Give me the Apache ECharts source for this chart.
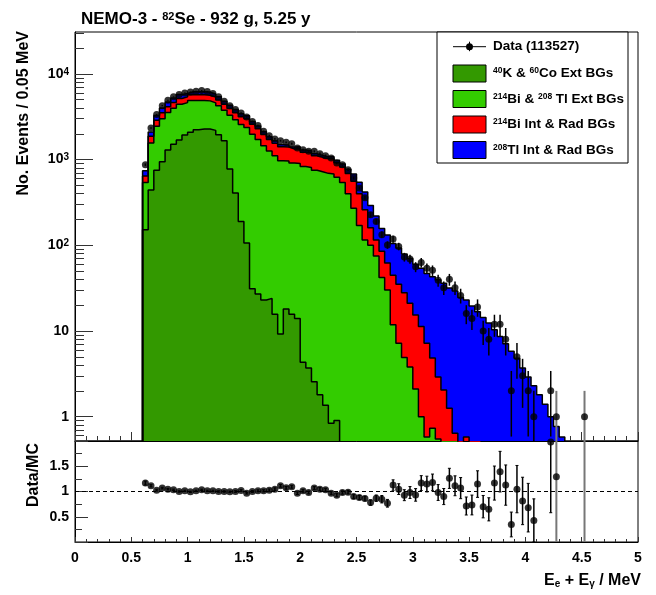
<!DOCTYPE html>
<html><head><meta charset="utf-8">
<script src="https://cdn.jsdelivr.net/npm/echarts@6/dist/echarts.min.js"></script>
<style>html,body{margin:0;padding:0;background:#fff}#c{width:656px;height:595px}</style>
</head><body><div id="c"></div>
<script>
// ---------------- data ----------------
const BIN_START = 0.6, BIN_WIDTH = 0.05;   // MeV
// Data counts per 0.05 MeV bin, 0.60 ... 4.50
const dataCounts = [872,2340,3350,4260,4920,5390,5730,6000,6160,6270,6390,6210,5890,5390,4790,4260,3830,3500,3140,2790,2490,2135,1900,1740,1660,1590,1530,1366,1305,1247,1247,1172,1110,1044,912,872,762,610,466,359,227,190,133,101,118,97,73,69,56,63,54,51,39,32,40,32,26,16,14,19,10,8,12,12,8,2,5,3,2,1,0,0,2,1,0,0,0,0,1];
// MC components, starting at 0.60
const k40co60Ext = [152,440,750,945,1290,1510,1690,1940,2080,2230,2270,2270,2190,1950,1660,777,407,190,106,31,27,23,24,15.7,9.2,18,15.7,14,4.3,3.7,2.56,1.8,1.36,0.84,0.9];
const biTlExt = [388,1120,1690,2055,2240,2450,2720,2680,2820,2670,2630,2570,2400,2310,2100,2523,2503,2370,2264,1949,1693,1427,1236,1094,961,942,894,886,826,806,747,718,689,679,619,540,400,270,170,115,100,75,42,30,11.8,7.2,4.9,3.8,2.1,1.0,0.58,0.73,0.55,0.3,0.1,0.05];
const bi214Int = [105,310,430,510,610,680,750,770,800,800,800,800,760,700,650,650,610,600,620,610,570,510,460,440,440,440,420,440,390,390,360,340,330,340,300,280,290,290,230,145,60,40,43,32,33,27.8,23.1,17.2,13.3,10.3,6.6,4.1,2.35,1.75,1.15,0.59,0.35,0.58,0.2,0.15];
const tl208Int = [95,230,390,480,560,580,570,530,500,490,490,490,460,430,380,340,310,270,260,200,170,150,130,110,80,80,70,70,70,70,60,60,55,60,64,70,82,118,142,157,131,104,72,70,60,58,51,49,44.6,42.7,39.8,38.2,36.7,34,30.4,28.6,24.3,22.4,19.4,16.6,14.4,12.4,10.3,8.6,7.1,5.8,4.8,3.7,2.9,2.3,1.8,1.4,1.0,0.77,0.58];
// Data / MC ratio, 0.60 ... 4.50
const ratioValues = [1.167,1.113,1.027,1.067,1.047,1.033,1.0,1.013,0.993,1.013,1.033,1.013,1.013,1.0,1.0,0.993,1.0,1.02,0.967,1.0,1.013,1.013,1.027,1.047,1.113,1.073,1.093,0.967,1.013,0.98,1.067,1.047,1.033,0.967,0.927,0.98,0.987,0.90,0.88,0.86,0.78,0.867,0.847,0.767,1.127,1.047,0.927,0.98,0.933,1.167,1.147,1.18,0.98,0.90,1.26,1.113,1.067,0.713,0.733,1.147,0.70,0.647,1.167,1.393,1.127,0.347,1.047,0.813,0.68,0.427,null,null,1.98,1.293,null,null,null,null,null];
const yMajorTicks = [1,10,100,1000,10000];
const yMinorTicks = [0.6,0.7,0.8,0.9,2,3,4,5,6,7,8,9,20,30,40,50,60,70,80,90,200,300,400,500,600,700,800,900,2000,3000,4000,5000,6000,7000,8000,9000,20000,30000];
const legendLabels = ['Data (113527)','{s|40}{t|K & }{s|60}{t|Co Ext BGs}','{s|214}{t|Bi & }{s|208}{t| Tl Ext BGs}','{s|214}{t|Bi Int & Rad BGs}','{s|208}{t|Tl Int & Rad BGs}'];

// ---------------- build ----------------
const FONT = "'Liberation Sans', Arial, Helvetica, sans-serif";
const YMIN = 0.52, YMAX = 30800, FLOOR = 0.3, RMIN = 0, RMAX = 2;
const COLORS = ['#339900', '#33cc00', '#ff0000', '#0000ff'];
function edge(i){ return Math.round((BIN_START + i*BIN_WIDTH)*1000)/1000; }
function center(i){ return Math.round((BIN_START + (i+0.5)*BIN_WIDTH)*10000)/10000; }
function at(a,i){ return (i < a.length && a[i] != null) ? a[i] : 0; }
const nMC = Math.max(k40co60Ext.length, biTlExt.length, bi214Int.length, tl208Int.length);
const cum = [[],[],[],[]];
for (let i=0;i<nMC;i++){
  const a = at(k40co60Ext,i), b = a + at(biTlExt,i), c = b + at(bi214Int,i), d = c + at(tl208Int,i);
  cum[0].push(a); cum[1].push(b); cum[2].push(c); cum[3].push(d);
}
function stepData(vals){
  let last = vals.length-1; while (last>=0 && !(vals[last]>0)) last--;
  const pts = [[edge(0), FLOOR]];
  for (let i=0;i<=last;i++) pts.push([edge(i), Math.max(vals[i], FLOOR)]);
  pts.push([edge(last+1), FLOOR]);
  return pts;
}
const names = ['40K & 60Co Ext BGs','214Bi & 208Tl Ext BGs','214Bi Int & Rad BGs','208Tl Int & Rad BGs'];
const series = [];
for (let k=3;k>=0;k--){
  series.push({type:'line', name:names[k], xAxisIndex:0, yAxisIndex:0, step:'end', symbol:'none', showSymbol:false,
    data: stepData(cum[k]), clip:true, silent:true, z:2,
    lineStyle:{color:'#000', width:1.5}, itemStyle:{color:COLORS[k]},
    areaStyle:{color:COLORS[k], opacity:1, origin:'start'}});
}
// overflow of ratio error bar (used for grey bars)
function ratioOverflow(i){
  const n = dataCounts[i]; if (!(n>0)) return false;
  const r = ratioValues[i];
  if (r == null) return true;
  const e = r/Math.sqrt(n);
  return (r - e) <= RMIN && (r + e) >= RMAX;
}
const pts = [], errs = [], rpts = [], rerrs = [];
for (let i=0;i<dataCounts.length;i++){
  const n = dataCounts[i]; if (!(n>0)) continue;
  const x = center(i), s = Math.sqrt(n);
  pts.push([x, n]);
  errs.push([x, n - s, n + s, ratioOverflow(i) ? 1 : 0]);
  const r = ratioValues[i];
  if (r != null){ rpts.push([x, r]); rerrs.push([x, r - r/s, r + r/s, ratioOverflow(i)?1:0]); }
  else rerrs.push([x, -10, 10, 1]);
}
function errRender(cap){
  return function(params, api){
    const x = api.value(0), lo = api.value(1), hi = api.value(2), gray = api.value(3);
    const cs = params.coordSys;
    const top = cs.y, bot = cs.y + cs.height;
    const px = api.coord([x, Math.max(hi, 1e-9)])[0];
    let yHi = api.coord([x, Math.max(hi, 1e-9)])[1];
    let yLo = lo > 0 ? api.coord([x, lo])[1] : bot;
    yHi = Math.max(Math.min(yHi, bot), top); yLo = Math.max(Math.min(yLo, bot), top);
    const col = gray ? '#777' : '#000', lw = gray ? 2 : 1.5;
    const children = [{type:'line', shape:{x1:px, y1:yHi, x2:px, y2:yLo}, style:{stroke:col, lineWidth:lw}}];
    if (cap && !gray){
      children.push({type:'line', shape:{x1:px-1.5, y1:yHi, x2:px+1.5, y2:yHi}, style:{stroke:col, lineWidth:1}});
      children.push({type:'line', shape:{x1:px-1.5, y1:yLo, x2:px+1.5, y2:yLo}, style:{stroke:col, lineWidth:1}});
    }
    return {type:'group', children};
  };
}
series.push({type:'custom', xAxisIndex:0, yAxisIndex:0, data: errs, encode:{x:0, y:2}, renderItem: errRender(false), z:3, silent:true});
series.push({type:'scatter', name:'Data', xAxisIndex:0, yAxisIndex:0, data: pts, symbol:'circle', symbolSize:7, itemStyle:{color:'#000'}, z:4, silent:true});
series.push({type:'custom', xAxisIndex:1, yAxisIndex:2, data: rerrs, encode:{x:0, y:2}, renderItem: errRender(true), z:3, silent:true, clip:true});
series.push({type:'scatter', xAxisIndex:1, yAxisIndex:2, data: rpts, symbol:'circle', symbolSize:7, itemStyle:{color:'#000'}, z:4, silent:true, clip:true,
  markLine:{silent:true, symbol:['none','none'], label:{show:false}, animation:false,
    lineStyle:{color:'#000', type:[4,3], width:1}, data:[{yAxis:1}]}});

const lbl = {fontFamily:FONT, fontWeight:'bold', fontSize:14, color:'#000'};
const option = {
  animation:false,
  backgroundColor:'#fff',
  title:{text:'NEMO-3 - {s|82}Se - 932 g, 5.25 y', left:76, top:6,
    textStyle:{fontFamily:FONT, fontWeight:'bold', fontSize:17, color:'#000',
      rich:{s:{fontFamily:FONT, fontWeight:'bold', fontSize:11, verticalAlign:'top', color:'#000'}}}},
  grid:[
    {left:75, top:32, width:563, height:409, show:true, borderColor:'#000', borderWidth:1, backgroundColor:'transparent'},
    {left:75, top:441, width:563, height:101, show:true, borderColor:'#000', borderWidth:1, backgroundColor:'transparent'}
  ],
  xAxis:[
    {type:'value', gridIndex:0, min:0, max:5, interval:0.5, axisLine:{show:true, onZero:false, lineStyle:{color:'#000', width:1}},
      axisTick:{show:true, inside:true, length:9, lineStyle:{color:'#333'}}, minorTick:{show:true, splitNumber:5, length:5, lineStyle:{color:'#333'}},
      axisLabel:{show:false}, splitLine:{show:false}, minorSplitLine:{show:false}},
    {type:'value', gridIndex:1, min:0, max:5, interval:0.5, axisLine:{show:true, onZero:false, lineStyle:{color:'#000', width:1}},
      axisTick:{show:true, inside:true, length:5, lineStyle:{color:'#333'}}, minorTick:{show:true, splitNumber:5, length:3, lineStyle:{color:'#333'}},
      axisLabel:Object.assign({margin:9}, lbl), splitLine:{show:false}}
  ],
  yAxis:[
    {type:'log', logBase:10, gridIndex:0, min:YMIN, max:YMAX, position:'left',
      axisLine:{show:true, lineStyle:{color:'#000', width:1}},
      axisTick:{show:true, inside:true, length:18, customValues:yMajorTicks, lineStyle:{color:'#333'}},
      axisLabel:Object.assign({margin:6, customValues:yMajorTicks,
        formatter:function(v){ const l = Math.log10(v), e = Math.round(l); if (Math.abs(l-e)>1e-6) return ''; if (e===0) return '1'; if (e===1) return '10'; return '{b|10}{s|'+e+'}'; },
        rich:{b:{fontFamily:FONT, fontWeight:'bold', fontSize:14, color:'#000'}, s:{fontFamily:FONT, fontWeight:'bold', fontSize:10, color:'#000', verticalAlign:'top'}}}, lbl),
      splitLine:{show:false}},
    {type:'log', logBase:10, gridIndex:0, min:YMIN, max:YMAX, position:'left', offset:0,
      axisLine:{show:false}, axisTick:{show:true, inside:true, length:9, customValues:yMinorTicks, lineStyle:{color:'#333'}},
      axisLabel:{show:false}, splitLine:{show:false}},
    {type:'value', gridIndex:1, min:RMIN, max:RMAX, interval:0.5, position:'left',
      axisLine:{show:true, lineStyle:{color:'#000', width:1}},
      axisTick:{show:true, inside:true, length:13, lineStyle:{color:'#333'}}, minorTick:{show:true, splitNumber:2, length:7, lineStyle:{color:'#333'}},
      axisLabel:Object.assign({margin:6, formatter:function(v){ return (v<=RMIN||v>=RMAX) ? '' : String(v); }}, lbl),
      splitLine:{show:false}, minorSplitLine:{show:false}}
  ],
  series: series,
  graphic: []
};
// axis titles
option.graphic.push({type:'text', x:24, y:31, rotation:Math.PI/2, silent:true,
  style:{text:'No. Events / 0.05 MeV', font:'bold 16px '+FONT, fill:'#000', align:'right', verticalAlign:'middle'}});
option.graphic.push({type:'text', x:34, y:443, rotation:Math.PI/2, silent:true,
  style:{text:'Data/MC', font:'bold 16px '+FONT, fill:'#000', align:'right', verticalAlign:'middle'}});
option.graphic.push({type:'text', x:641, y:581, silent:true,
  style:{text:'{b|E}{s|e}{b| + E}{s|γ}{b| / MeV}', align:'right', verticalAlign:'middle', fill:'#000',
    rich:{b:{fontFamily:FONT, fontWeight:'bold', fontSize:16, fill:'#000'}, s:{fontFamily:FONT, fontWeight:'bold', fontSize:10, verticalAlign:'bottom', fill:'#000'}}}});
// legend
const LX = 437, LY = 32, LW = 191, LH = 131;
const legend = [{type:'rect', shape:{x:LX, y:LY, width:LW, height:LH}, style:{fill:'#fff', stroke:'#000', lineWidth:1}}];
const rowY = [46.7, 73.5, 99, 124.5, 150];
const sx = 453, sw = 33, sh = 17, tx = 493;
legend.push({type:'line', shape:{x1:sx, y1:rowY[0], x2:sx+sw, y2:rowY[0]}, style:{stroke:'#000', lineWidth:1}});
legend.push({type:'line', shape:{x1:sx+sw/2, y1:rowY[0]-5, x2:sx+sw/2, y2:rowY[0]+4.5}, style:{stroke:'#000', lineWidth:1}});
legend.push({type:'circle', shape:{cx:sx+sw/2, cy:rowY[0], r:3.5}, style:{fill:'#000'}});
for (let k=0;k<4;k++){
  legend.push({type:'rect', shape:{x:sx, y:rowY[k+1]-sh/2, width:sw, height:sh}, style:{fill:COLORS[k], stroke:'#000', lineWidth:1}});
}
const legRich = {t:{fontFamily:FONT, fontWeight:'bold', fontSize:13.5, fill:'#000'}, s:{fontFamily:FONT, fontWeight:'bold', fontSize:8.5, verticalAlign:'top', fill:'#000'}};
for (let k=0;k<5;k++){
  legend.push({type:'text', x:tx, y:rowY[k], style:{text: k===0 ? '{t|'+legendLabels[0]+'}' : legendLabels[k], rich:legRich, align:'left', verticalAlign:'middle', fill:'#000'}});
}
option.graphic.push({type:'group', silent:true, z:10, children:legend});

const chart = echarts.init(document.getElementById('c'), null, {renderer:'canvas'});
chart.setOption(option);
</script>
</body></html>
